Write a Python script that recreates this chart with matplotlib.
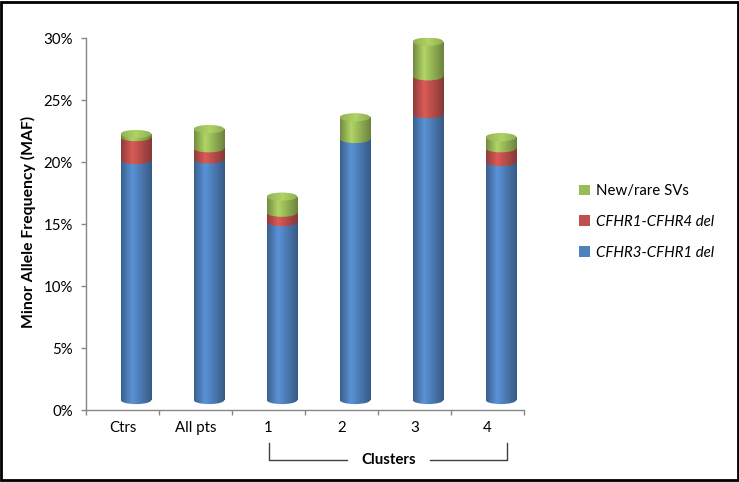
import numpy as np
import matplotlib
matplotlib.use('Agg')
import matplotlib.pyplot as plt
from matplotlib.patches import Rectangle, Ellipse, Patch
from matplotlib.colors import LinearSegmentedColormap, to_rgb
from matplotlib.transforms import ScaledTranslation, blended_transform_factory

# ---------------- data ----------------
categories = ['Ctrs', 'All pts', '1', '2', '3', '4']
cfhr3_cfhr1_del = [19.35, 19.4, 14.35, 21.05, 23.05, 19.2]
cfhr1_cfhr4_del = [1.85, 0.9, 0.75, 0.0, 3.05, 1.1]
new_rare_svs = [0.25, 1.55, 1.3, 1.75, 2.8, 0.9]
series_names = ['CFHR3-CFHR1 del', 'CFHR1-CFHR4 del', 'New/rare SVs']
series_colors = ['#4F81BD', '#C0504D', '#9BBB59']
yticks = [0, 5, 10, 15, 20, 25, 30]
ytick_labels = ['0%', '5%', '10%', '15%', '20%', '25%', '30%']
ylabel = 'Minor Allele Frequency (MAF)'
group_label = 'Clusters'

plt.rcParams['font.family'] = ['Lato', 'DejaVu Sans']
FS = 10.8
AXC = '#868686'

fig = plt.figure(figsize=(7.39, 4.82), dpi=100)
ax = fig.add_axes([86 / 739, 1 - 410 / 482, 438 / 739, 372 / 482])

# 3-D depth offset of the bars relative to the axis frame
off = ax.transData + ScaledTranslation(0.135, 0.10, fig.dpi_scale_trans)

bar_w = 0.42
ell_h = 0.66
grad = np.linspace(0, 1, 128).reshape(1, -1)


def body_cmap(c):
    rgb = np.array(to_rgb(c))
    stops = [(0.0, np.clip(rgb * 0.74, 0, 1)),
             (0.36, np.clip(rgb * 1.14, 0, 1)),
             (1.0, np.clip(rgb * 0.70, 0, 1))]
    return LinearSegmentedColormap.from_list('b', stops)


def cap_cmap(c):
    rgb = np.array(to_rgb(c))
    stops = [(0.0, np.clip(rgb * 0.95, 0, 1)),
             (0.5, np.clip(rgb * 1.13, 0, 1)),
             (1.0, np.clip(rgb * 0.92, 0, 1))]
    return LinearSegmentedColormap.from_list('c', stops)


def shaded(patch, cmap, x0, x1, y0, y1, z):
    patch.set_transform(off)
    patch.set_facecolor('none')
    patch.set_edgecolor('none')
    ax.add_patch(patch)
    im = ax.imshow(grad, cmap=cmap, extent=(x0, x1, y0, y1), aspect='auto',
                   transform=off, zorder=z, interpolation='bilinear')
    im.set_clip_path(patch)
    if not isinstance(patch, Rectangle):
        im.set_clip_box(None)


series = [cfhr3_cfhr1_del, cfhr1_cfhr4_del, new_rare_svs]
x = np.arange(len(categories))
for i in range(len(categories)):
    bottom = 0.0
    z = 2
    top_color = None
    for s, vals in enumerate(series):
        v = vals[i]
        if v <= 0:
            continue
        c = series_colors[s]
        x0, x1 = x[i] - bar_w / 2, x[i] + bar_w / 2
        rect = Rectangle((x0, bottom), bar_w, v)
        shaded(rect, body_cmap(c), x0, x1, bottom - ell_h, bottom + v + ell_h, z)
        ell = Ellipse((x[i], bottom), bar_w, ell_h)
        shaded(ell, body_cmap(c), x0, x1, bottom - ell_h, bottom + ell_h, z)
        bottom += v
        z += 1
        top_color = c
    cap = Ellipse((x[i], bottom), bar_w, ell_h)
    shaded(cap, cap_cmap(top_color), x[i] - bar_w / 2, x[i] + bar_w / 2,
           bottom - ell_h, bottom + ell_h, z + 1)

ax.set_xlim(-0.5, len(categories) - 0.5)
ax.set_ylim(0, 30)

for sp in ['top', 'right']:
    ax.spines[sp].set_visible(False)
for sp in ['left', 'bottom']:
    ax.spines[sp].set_color(AXC)
    ax.spines[sp].set_linewidth(1.0)

ax.set_yticks(yticks)
ax.set_yticklabels(ytick_labels, fontsize=FS)
ax.tick_params(axis='y', length=3.6, width=1, color=AXC, pad=6.0)

ax.set_xticks(np.arange(-0.5, len(categories), 1.0))
ax.set_xticklabels([])
ax.tick_params(axis='x', which='major', length=3.6, width=1, color=AXC)
ax.set_xticks(x, minor=True)
ax.set_xticklabels(categories, minor=True, fontsize=FS)
ax.tick_params(axis='x', which='minor', length=0, pad=8)

ax.set_ylabel(ylabel, fontsize=11.3, fontweight='bold')
ax.yaxis.set_label_coords(-0.114, 0.505)

# Clusters bracket
bt = blended_transform_factory(ax.transData, ax.transAxes)
y_hi, y_lo = -0.0887, -0.134
ax.plot([2.0, 2.0, 3.07], [y_hi, y_lo, y_lo], color='#404040', lw=1,
        transform=bt, clip_on=False)
ax.plot([4.21, 5.27, 5.27], [y_lo, y_lo, y_hi], color='#404040', lw=1,
        transform=bt, clip_on=False)
ax.text(3.64, y_lo, group_label, transform=bt, ha='center', va='center',
        fontsize=FS, fontweight='bold')

# Legend
handles = [Patch(facecolor=series_colors[k], edgecolor='none') for k in [2, 1, 0]]
labels = [series_names[k] for k in [2, 1, 0]]
leg = fig.legend(handles, labels, loc='center left',
                 bbox_to_anchor=(0.784, 1 - 222 / 482), frameon=False,
                 fontsize=FS, handlelength=0.7, handleheight=0.7,
                 handletextpad=0.4, labelspacing=1.12, borderpad=0,
                 borderaxespad=0)
for t in leg.get_texts()[1:]:
    t.set_style('italic')

# Outer frame
fig.patches.append(Rectangle((0.002, 0.004), 0.996, 0.991, transform=fig.transFigure,
                             fill=False, edgecolor='black', lw=2))

fig.savefig('out.png', dpi=100)
